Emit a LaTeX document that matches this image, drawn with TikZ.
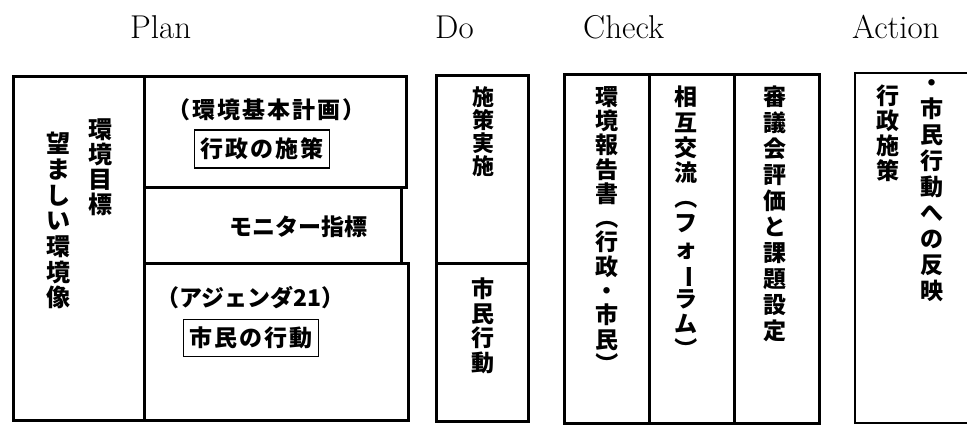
\documentclass[tikz,border=0pt]{standalone}
\usepackage{fontspec}
\usepackage{graphicx}
\newfontfamily\cjk{Noto Sans CJK JP}
\newfontfamily\cjkls{Noto Sans CJK JP}[LetterSpace=9]
\newcommand\vrot[1]{\rotatebox[origin=c]{-90}{#1}}
\begin{document}
\begin{tikzpicture}[x=1pt,y=-1pt,
  box/.style={draw, line width=2.6pt, inner sep=0pt, anchor=north west},
  ibox/.style={draw, line width=1.3pt, inner sep=0pt},
  head/.style={font=\fontsize{33}{33}\selectfont, anchor=base west, inner sep=0pt},
  vt/.style={align=center, inner sep=0pt, anchor=north},
  ht/.style={inner sep=0pt, anchor=west}]
\useasboundingbox (0,0) rectangle (967,424);
% headers
\node[head] (hplan) at (130,38) {Plan};
\node[head] (hdo) at (435,38) {Do};
\node[head] (hcheck) at (583,38) {Check};
\node[head] (haction) at (852,38) {Action};
% Plan boxes
\node[box, minimum width=131pt, minimum height=344pt] (planL) at (12,75) {};
\node[box, minimum width=262pt, minimum height=111pt] (planT) at (143,75) {};
\node[box, minimum width=257pt, minimum height=76pt] (planM) at (143,186) {};
\node[box, minimum width=264pt, minimum height=157pt] (planB) at (143,262) {};
% Do boxes
\node[box, minimum width=92pt, minimum height=188pt] (doT) at (435,74) {};
\node[box, minimum width=92pt, minimum height=158pt] (doB) at (435,262) {};
% Check boxes
\node[box, minimum width=85pt, minimum height=349pt] (ck1) at (563,73) {};
\node[box, minimum width=85pt, minimum height=349pt] (ck2) at (648,73) {};
\node[box, minimum width=85pt, minimum height=349pt] (ck3) at (733,73) {};
% Action box (open to the right)
\coordinate (actTR) at (967,73);
\coordinate (actTL) at (855,73);
\coordinate (actBL) at (855,423);
\coordinate (actBR) at (967,423);
\draw[line width=2.6pt] (actTR) -- (actTL) -- (actBL) -- (actBR);
% Plan texts
\node[vt, font=\cjk\bfseries\fontsize{24}{25}\selectfont] (goal) at (100,119) {環\\境\\目\\標};
\node[vt, font=\cjk\bfseries\fontsize{24}{25.7}\selectfont] (image) at (58,132) {望\\ま\\し\\い\\環\\境\\像};
\node[ht, font=\cjkls\bfseries\fontsize{23}{23}\selectfont] (kihon) at (167,110) {（環境基本計画）};
\node[ibox, minimum width=135pt, minimum height=38pt, font=\cjkls\bfseries\fontsize{23}{23}\selectfont] (gyosei) at (262,149) {行政の施策};
\node[ht, font=\cjk\bfseries\fontsize{23}{23}\selectfont] (monitor) at (229,227) {モニター指標};
\node[ht, font=\cjk\bfseries\fontsize{23}{23}\selectfont] (agenda) at (156,298) {（アジェンダ21）};
\node[ibox, minimum width=135pt, minimum height=37pt, font=\cjkls\bfseries\fontsize{23}{23}\selectfont] (shimin) at (251,338) {市民の行動};
% Do texts
\node[vt, font=\cjk\bfseries\fontsize{22}{23}\selectfont] (jisshi) at (483,86) {施\\策\\実\\施};
\node[vt, font=\cjk\bfseries\fontsize{23}{24.5}\selectfont] (kodo) at (483,278) {市\\民\\行\\動};
% Check texts
\node[vt, font=\cjk\bfseries\fontsize{23}{24.3}\selectfont] (hokoku) at (607,86) {環\\境\\報\\告\\書\\\vrot{（}\\行\\政\\・\\市\\民\\\vrot{）}};
\node[vt, font=\cjk\bfseries\fontsize{23}{25.2}\selectfont] (koryu) at (686,86) {相\\互\\交\\流\\\vrot{（}\\フ\\ォ\\\vrot{ー}\\ラ\\ム\\\vrot{）}};
\node[vt, font=\cjk\bfseries\fontsize{23}{26}\selectfont] (shingi) at (775,86) {審\\議\\会\\評\\価\\と\\課\\題\\設\\定};
% Action texts
\node[vt, font=\cjk\bfseries\fontsize{23}{25}\selectfont] (sesaku) at (888,85) {行\\政\\施\\策};
\node[vt, font=\cjk\bfseries\fontsize{23}{26}\selectfont] (hanei) at (932,79) {・\\市\\民\\行\\動\\へ\\の\\反\\映};
\end{tikzpicture}
\end{document}
